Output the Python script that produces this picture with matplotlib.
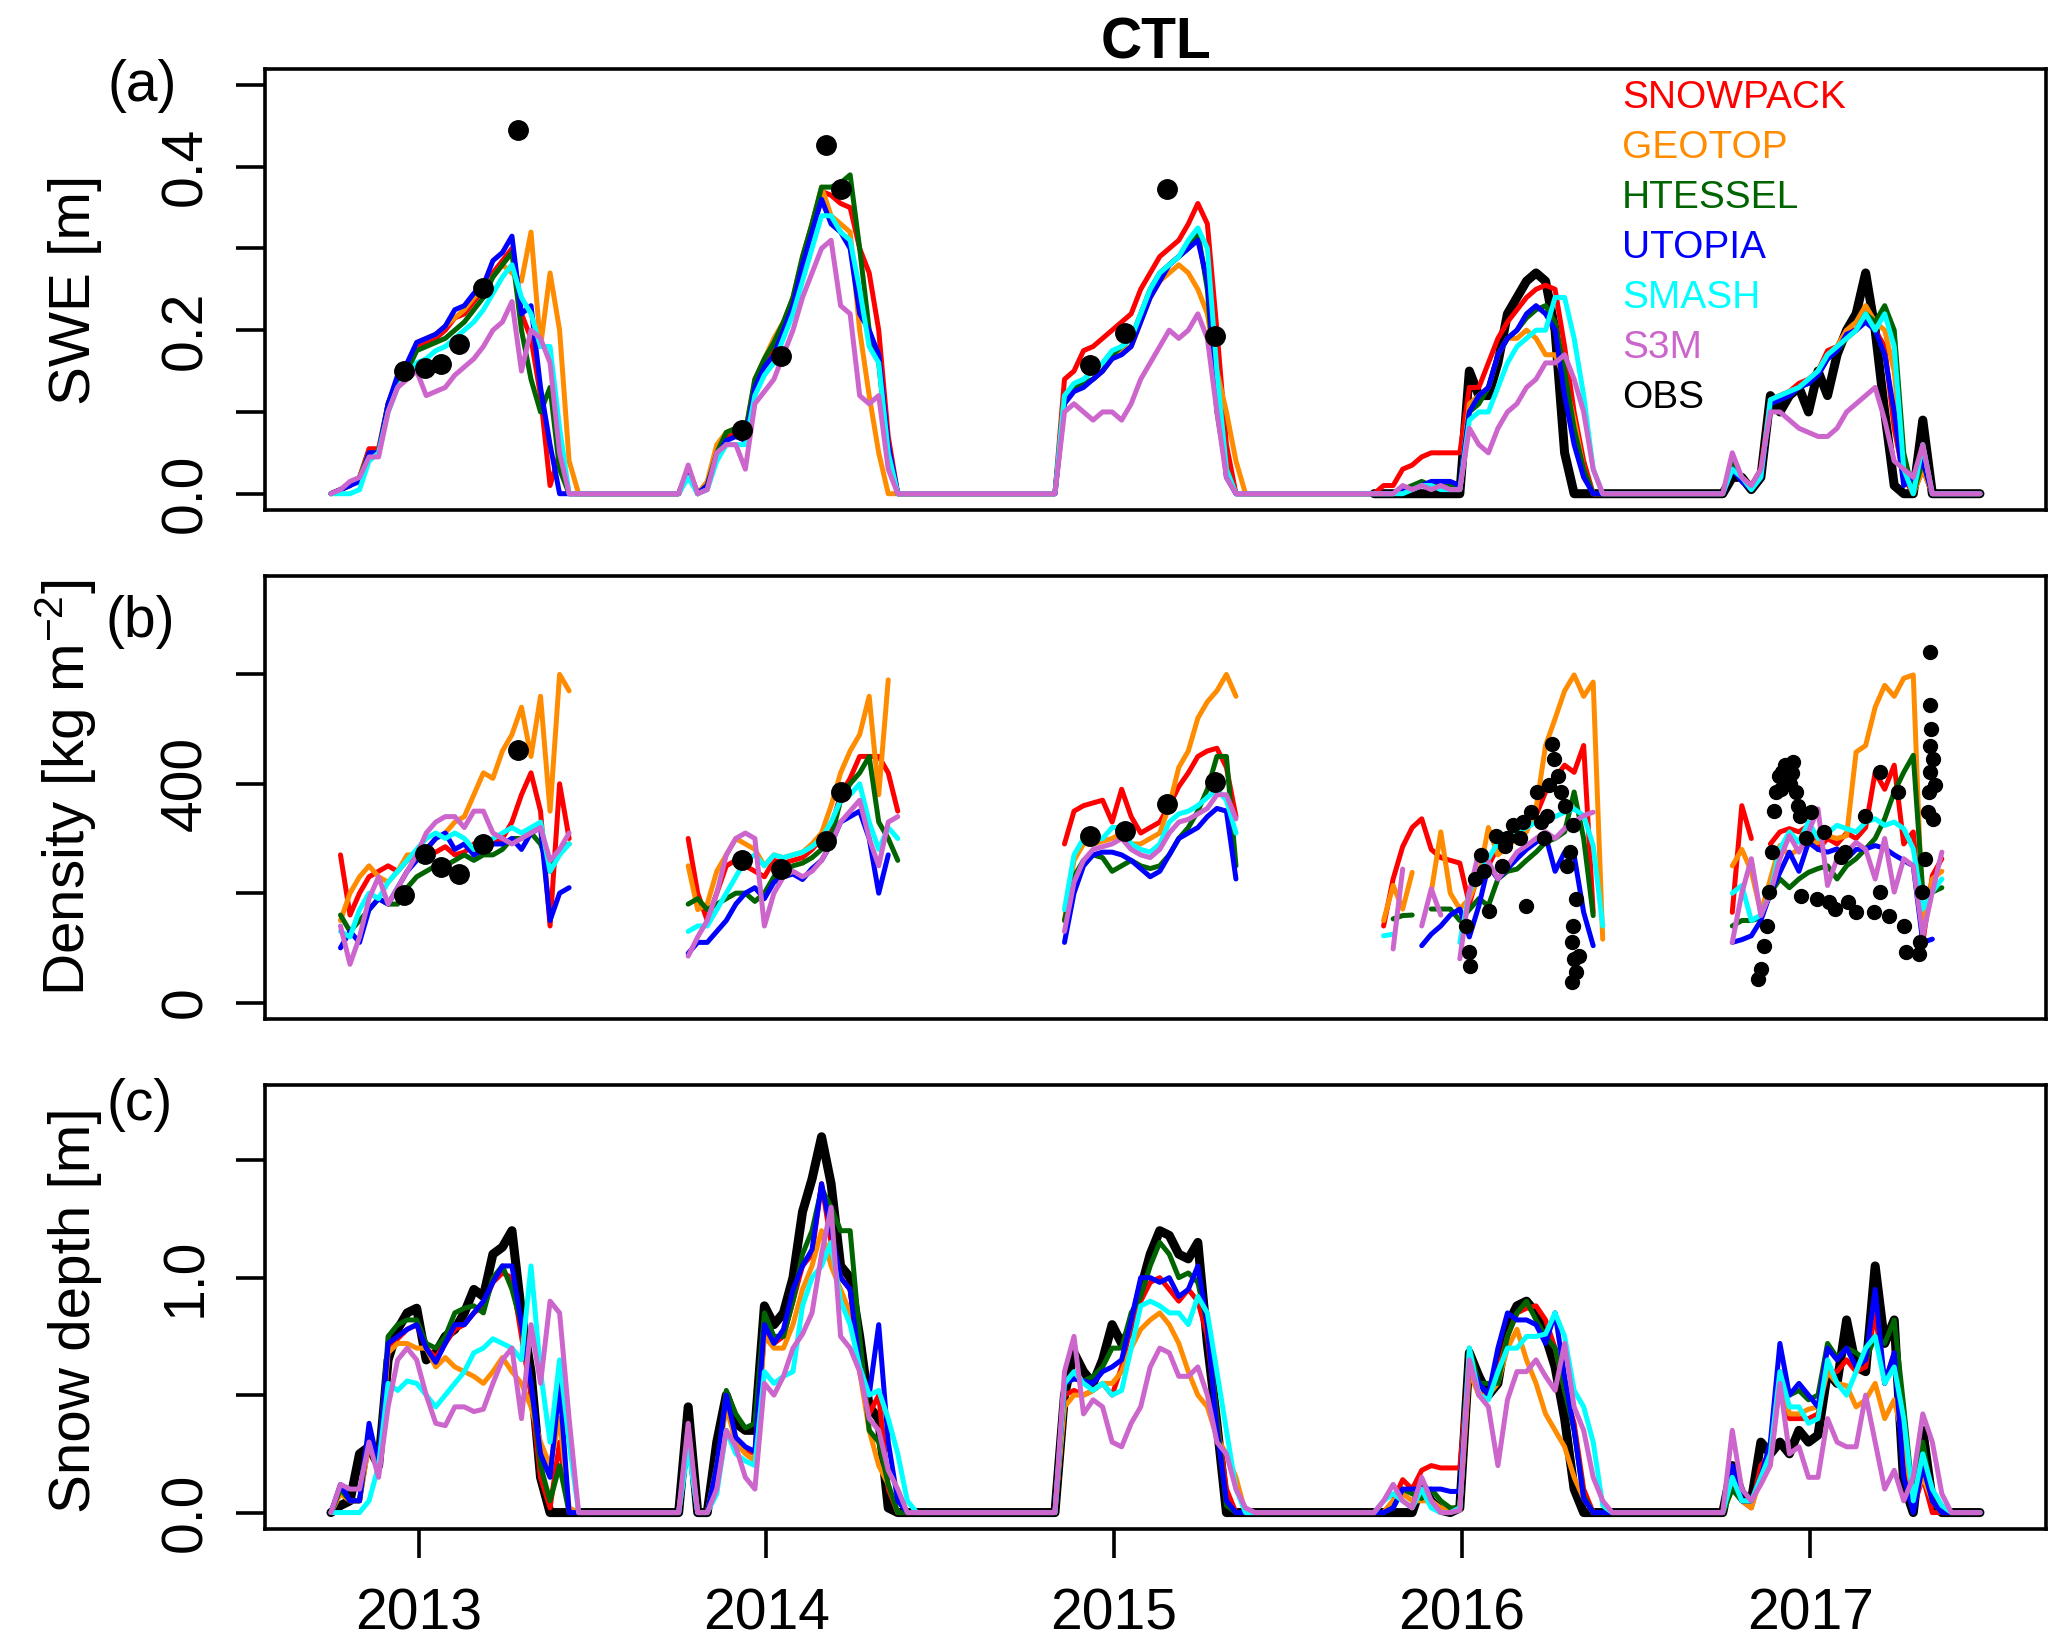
import numpy as np
import pandas as pd
import matplotlib
matplotlib.use("Agg")
import matplotlib.pyplot as plt
import matplotlib.dates as mdates

plt.rcParams["font.family"] = ["Liberation Sans", "DejaVu Sans"]
plt.rcParams["mathtext.fontset"] = "custom"
plt.rcParams["mathtext.rm"] = "Liberation Sans"
plt.rcParams["mathtext.it"] = "Liberation Sans:italic"
plt.rcParams["mathtext.default"] = "regular"

nan = np.nan

# ============ Sampling: one value every 10 days from 1 Oct ============

season_starts = ["2012-10-01", "2013-10-01", "2014-10-01", "2015-10-01", "2016-10-01"]

models = ["SNOWPACK", "GEOTOP", "HTESSEL", "UTOPIA", "SMASH", "S3M"]
colors = ["#FF0000", "#FF8C00", "#006400", "#0000FF", "#00FFFF", "#CC66CC"]

# ============ SWE [m] ============

swe_snowpack = [
    [0, 0.005, 0.01, 0.02, 0.055, 0.055, 0.11, 0.14, 0.155, 0.18, 0.185, 0.19, 0.2, 0.215, 0.22, 0.235, 0.25, 0.27, 0.285, 0.3, 0.22, 0.19, 0.12, 0.01, 0.05, 0, 0, 0],
    [0, 0.03, 0, 0.01, 0.05, 0.07, 0.075, 0.07, 0.135, 0.16, 0.18, 0.205, 0.235, 0.285, 0.33, 0.37, 0.365, 0.355, 0.35, 0.3, 0.27, 0.2, 0.07, 0, 0, 0, 0, 0],
    [0, 0, 0, 0, 0.14, 0.15, 0.175, 0.18, 0.19, 0.2, 0.21, 0.22, 0.25, 0.27, 0.29, 0.3, 0.31, 0.33, 0.355, 0.33, 0.2, 0.06, 0, 0, 0, 0, 0, 0],
    [0, 0.01, 0.01, 0.03, 0.035, 0.045, 0.05, 0.05, 0.05, 0.05, 0.13, 0.13, 0.16, 0.19, 0.21, 0.225, 0.24, 0.25, 0.255, 0.25, 0.18, 0.1, 0.04, 0, 0, 0, 0, 0],
    [0, 0.04, 0.02, 0.01, 0.03, 0.115, 0.12, 0.125, 0.135, 0.14, 0.15, 0.175, 0.18, 0.2, 0.2, 0.215, 0.2, 0.18, 0.08, 0.02, 0, 0.03, 0, 0, 0, 0, 0, 0],
]
swe_geotop = [
    [0, 0.005, 0.01, 0.02, 0.05, 0.05, 0.11, 0.14, 0.155, 0.185, 0.19, 0.195, 0.205, 0.215, 0.225, 0.24, 0.25, 0.265, 0.28, 0.27, 0.26, 0.32, 0.18, 0.27, 0.2, 0.04, 0, 0],
    [0, 0.03, 0, 0.015, 0.06, 0.075, 0.08, 0.075, 0.14, 0.165, 0.19, 0.21, 0.24, 0.29, 0.33, 0.375, 0.34, 0.33, 0.32, 0.2, 0.12, 0.05, 0, 0, 0, 0, 0, 0],
    [0, 0, 0, 0, 0.12, 0.13, 0.135, 0.14, 0.15, 0.165, 0.175, 0.18, 0.21, 0.24, 0.26, 0.27, 0.28, 0.27, 0.25, 0.22, 0.15, 0.1, 0.04, 0, 0, 0, 0, 0],
    [0, 0, 0, 0.005, 0.005, 0.01, 0.01, 0.01, 0.01, 0.005, 0.11, 0.12, 0.13, 0.17, 0.19, 0.19, 0.2, 0.19, 0.17, 0.17, 0.14, 0.09, 0.03, 0, 0, 0, 0, 0],
    [0, 0.04, 0.02, 0.005, 0.025, 0.11, 0.12, 0.125, 0.13, 0.14, 0.15, 0.17, 0.18, 0.2, 0.21, 0.23, 0.21, 0.2, 0.15, 0.03, 0, 0.03, 0, 0, 0, 0, 0, 0],
]
swe_htessel = [
    [0, 0.005, 0.01, 0.02, 0.05, 0.05, 0.11, 0.14, 0.15, 0.175, 0.18, 0.185, 0.19, 0.2, 0.21, 0.225, 0.24, 0.265, 0.28, 0.295, 0.2, 0.14, 0.1, 0.13, 0.03, 0, 0, 0],
    [0, 0.03, 0, 0.01, 0.05, 0.075, 0.08, 0.075, 0.14, 0.165, 0.185, 0.21, 0.24, 0.29, 0.33, 0.375, 0.375, 0.38, 0.39, 0.3, 0.2, 0.16, 0.05, 0, 0, 0, 0, 0],
    [0, 0, 0, 0, 0.12, 0.13, 0.135, 0.14, 0.15, 0.17, 0.18, 0.19, 0.22, 0.25, 0.27, 0.28, 0.29, 0.3, 0.32, 0.25, 0.1, 0.03, 0, 0, 0, 0, 0, 0],
    [0, 0, 0, 0.005, 0.01, 0.015, 0.01, 0.01, 0.01, 0.005, 0.1, 0.11, 0.13, 0.17, 0.19, 0.2, 0.215, 0.225, 0.23, 0.21, 0.15, 0.08, 0.03, 0, 0, 0, 0, 0],
    [0, 0.04, 0.02, 0.005, 0.025, 0.11, 0.115, 0.12, 0.13, 0.135, 0.145, 0.165, 0.175, 0.19, 0.2, 0.22, 0.21, 0.23, 0.2, 0.05, 0, 0.04, 0, 0, 0, 0, 0, 0],
]
swe_utopia = [
    [0, 0.005, 0.01, 0.015, 0.05, 0.05, 0.11, 0.145, 0.16, 0.185, 0.19, 0.195, 0.205, 0.225, 0.23, 0.245, 0.255, 0.285, 0.295, 0.315, 0.22, 0.23, 0.13, 0.06, 0, 0, 0, 0],
    [0, 0.03, 0, 0.01, 0.045, 0.065, 0.07, 0.065, 0.13, 0.155, 0.17, 0.2, 0.23, 0.28, 0.32, 0.36, 0.33, 0.32, 0.3, 0.22, 0.2, 0.17, 0.06, 0, 0, 0, 0, 0],
    [0, 0, 0, 0, 0.11, 0.125, 0.13, 0.14, 0.15, 0.165, 0.17, 0.18, 0.21, 0.24, 0.26, 0.28, 0.29, 0.3, 0.31, 0.26, 0.12, 0.02, 0, 0, 0, 0, 0, 0],
    [0, 0, 0, 0.005, 0.005, 0.01, 0.015, 0.015, 0.015, 0.01, 0.1, 0.12, 0.13, 0.17, 0.19, 0.2, 0.22, 0.23, 0.22, 0.2, 0.12, 0.06, 0.02, 0, 0, 0, 0, 0],
    [0, 0.03, 0.015, 0.005, 0.02, 0.11, 0.115, 0.12, 0.13, 0.135, 0.145, 0.165, 0.175, 0.195, 0.2, 0.21, 0.2, 0.17, 0.1, 0.01, 0.02, 0.04, 0, 0, 0, 0, 0, 0],
]
swe_smash = [
    [0, 0, 0, 0.005, 0.04, 0.05, 0.1, 0.13, 0.145, 0.16, 0.165, 0.175, 0.18, 0.19, 0.2, 0.21, 0.225, 0.245, 0.265, 0.28, 0.24, 0.22, 0.18, 0.18, 0.08, 0, 0, 0],
    [0, 0.02, 0, 0.005, 0.04, 0.06, 0.06, 0.06, 0.12, 0.145, 0.16, 0.19, 0.22, 0.26, 0.3, 0.34, 0.34, 0.32, 0.31, 0.25, 0.18, 0.16, 0.05, 0, 0, 0, 0, 0],
    [0, 0, 0, 0, 0.12, 0.135, 0.14, 0.15, 0.16, 0.175, 0.18, 0.19, 0.22, 0.25, 0.27, 0.28, 0.29, 0.31, 0.325, 0.3, 0.15, 0.03, 0, 0, 0, 0, 0, 0],
    [0, 0, 0, 0, 0.005, 0.01, 0.01, 0.005, 0.005, 0.005, 0.09, 0.1, 0.1, 0.13, 0.16, 0.18, 0.19, 0.2, 0.2, 0.24, 0.24, 0.19, 0.12, 0.03, 0, 0, 0, 0],
    [0, 0.03, 0.02, 0.005, 0.02, 0.115, 0.12, 0.125, 0.13, 0.14, 0.15, 0.17, 0.18, 0.19, 0.2, 0.22, 0.2, 0.22, 0.18, 0.03, 0, 0.06, 0, 0, 0, 0, 0, 0],
]
swe_s3m = [
    [0, 0.005, 0.015, 0.02, 0.045, 0.045, 0.1, 0.13, 0.14, 0.15, 0.12, 0.125, 0.13, 0.145, 0.155, 0.165, 0.18, 0.2, 0.21, 0.235, 0.15, 0.2, 0.19, 0.16, 0.05, 0, 0, 0],
    [0, 0.035, 0, 0.005, 0.05, 0.06, 0.06, 0.03, 0.11, 0.125, 0.14, 0.17, 0.2, 0.24, 0.27, 0.3, 0.31, 0.23, 0.22, 0.12, 0.11, 0.12, 0.03, 0, 0, 0, 0, 0],
    [0, 0, 0, 0, 0.1, 0.11, 0.1, 0.09, 0.1, 0.1, 0.09, 0.11, 0.14, 0.16, 0.18, 0.2, 0.19, 0.2, 0.22, 0.19, 0.1, 0.02, 0, 0, 0, 0, 0, 0],
    [0, 0, 0, 0.01, 0.005, 0.01, 0.005, 0.01, 0.005, 0.005, 0.08, 0.06, 0.05, 0.08, 0.1, 0.11, 0.13, 0.14, 0.16, 0.16, 0.17, 0.14, 0.1, 0.03, 0, 0, 0, 0],
    [0, 0.05, 0.02, 0.01, 0.03, 0.1, 0.1, 0.09, 0.08, 0.075, 0.07, 0.07, 0.08, 0.1, 0.11, 0.12, 0.13, 0.09, 0.04, 0.03, 0.02, 0.06, 0, 0, 0, 0, 0, 0],
]
# automatic station record, only from autumn 2015
swe_obs = [
    [0, 0, 0, 0, 0, 0, 0, 0, 0, 0, 0.15, 0.12, 0.12, 0.16, 0.22, 0.24, 0.26, 0.27, 0.26, 0.2, 0.05, 0, 0, 0, 0, 0, 0, 0],
    [0, 0.02, 0.02, 0.005, 0.02, 0.12, 0.1, 0.12, 0.13, 0.1, 0.15, 0.12, 0.17, 0.2, 0.22, 0.27, 0.2, 0.1, 0.01, 0, 0, 0.09, 0, 0, 0, 0, 0, 0],
]

# ============ Density [kg m-3] ============

dens_snowpack = [
    [nan, 270, 160, 200, 230, 240, 250, 240, 260, 270, 280, 275, 285, 270, 275, 290, 300, 290, 300, 330, 380, 420, 350, 140, 400, 300, nan, nan],
    [nan, 300, 200, 150, 200, 250, 260, 250, 240, 230, 260, 255, 260, 265, 280, 300, 320, 380, 410, 450, 450, 450, 420, 350, nan, nan, nan, nan],
    [nan, nan, nan, nan, 290, 350, 360, 365, 370, 330, 390, 340, 310, 320, 330, 360, 395, 420, 450, 460, 465, 430, 340, nan, nan, nan, nan, nan],
    [nan, 140, 226, 285, 320, 336, 280, 265, 260, 255, 180, 240, 250, 285, 300, 305, 320, 342, 385, 410, 434, 421, 470, 165, nan, nan, nan, nan],
    [nan, 165, 360, 300, nan, 290, 312, 318, 312, 324, 280, 300, 290, 310, 300, 320, 421, 390, 434, 290, 312, 110, 232, 263, nan, nan, nan, nan],
]
dens_geotop = [
    [nan, 150, 200, 230, 250, 230, 220, 240, 270, 270, 280, 300, 310, 330, 340, 380, 420, 410, 460, 490, 540, 450, 560, 350, 600, 570, nan, nan],
    [nan, 250, 170, 180, 240, 270, 300, 290, 280, 250, 270, 265, 270, 275, 290, 310, 360, 420, 460, 490, 560, 380, 590, nan, nan, nan, nan, nan],
    [nan, nan, nan, nan, 150, 260, 290, 290, 295, 300, 310, 290, 290, 300, 310, 360, 430, 460, 520, 550, 570, 600, 560, nan, nan, nan, nan, nan],
    [nan, 150, 214, 171, 238, nan, 202, 312, 200, 171, 190, 230, 320, 270, 285, 300, 312, 354, 470, 519, 570, 599, 560, 586, 116, nan, nan, nan],
    [nan, 250, 280, 240, 165, 226, 287, 269, 281, 290, 293, 305, 300, 305, 458, 470, 540, 580, 560, 593, 599, 140, 226, 240, nan, nan, nan, nan],
]
dens_htessel = [
    [nan, 160, 130, 150, 170, 190, 180, 180, 210, 230, 240, 250, 250, 260, 270, 260, 270, 270, 280, 300, 300, 310, 290, 240, 280, 290, nan, nan],
    [nan, 180, 190, 170, 180, 190, 200, 200, 185, 200, 230, 240, 250, 255, 265, 280, 300, 370, 400, 420, 450, 330, 300, 260, nan, nan, nan, nan],
    [nan, nan, nan, nan, 150, 230, 260, 270, 265, 240, 250, 260, 250, 245, 250, 270, 300, 320, 350, 390, 450, 450, 250, nan, nan, nan, nan, nan],
    [nan, nan, 153, 159, 160, nan, 171, 171, 171, 150, 170, 190, 177, 226, 240, 244, 260, 275, 293, 300, 312, 385, 300, 159, nan, nan, nan, nan],
    [nan, 140, 150, 150, 155, 200, 226, 210, 226, 238, 245, 250, 226, 250, 263, 281, 300, 336, 385, 421, 452, 202, 202, 210, nan, nan, nan, nan],
]
dens_utopia = [
    [nan, 100, 130, 110, 170, 190, 180, 210, 240, 260, 280, 300, 310, 280, 290, 270, 280, 290, 290, 300, 280, 310, 320, 150, 200, 210, nan, nan],
    [nan, 90, 110, 110, 130, 150, 180, 200, 210, 190, 220, 230, 235, 225, 245, 260, 290, 330, 340, 350, 300, 200, 270, nan, nan, nan, nan, nan],
    [nan, nan, nan, nan, 110, 200, 250, 270, 275, 275, 270, 260, 245, 230, 240, 270, 300, 310, 320, 340, 355, 350, 226, nan, nan, nan, nan, nan],
    [nan, nan, nan, 110, nan, 104, 125, 140, 160, 171, 120, 177, 250, 226, 245, 263, 280, 293, 305, 240, 275, 269, 165, 104, nan, nan, nan, nan],
    [nan, 110, 115, 122, 150, 200, 238, 275, 240, 293, 280, 275, 281, 263, 280, 281, 287, 282, 270, 260, 250, 110, 116, nan, nan, nan, nan, nan],
]
dens_smash = [
    [nan, 130, 120, 170, 200, 190, 220, 240, 260, 280, 300, 310, 300, 310, 300, 280, 290, 300, 310, 320, 310, 320, 330, 240, 270, 290, nan, nan],
    [nan, 130, 140, 140, 170, 200, 230, 260, 270, 250, 270, 265, 270, 275, 285, 300, 330, 370, 380, 400, 330, 280, 320, 300, nan, nan, nan, nan],
    [nan, nan, nan, nan, 170, 270, 300, 300, 300, 320, 320, 290, 280, 275, 290, 330, 345, 350, 360, 375, 390, 370, 310, nan, nan, nan, nan, nan],
    [nan, 122, 125, nan, nan, 140, nan, nan, nan, 110, 202, 240, 263, 293, 305, 312, 320, 330, 336, 340, 348, 354, 342, 287, 140, nan, nan, nan],
    [nan, 200, 214, 150, 160, 202, 281, 312, 293, 330, 300, 310, 324, 318, 312, 330, 336, 324, 330, 318, 281, 171, 202, 226, nan, nan, nan, nan],
]
dens_s3m = [
    [nan, 140, 70, 120, 190, 230, 180, 210, 240, 270, 310, 330, 340, 340, 320, 350, 350, 310, 300, 290, 300, 310, 320, 260, 280, 310, nan, nan],
    [nan, 85, 120, 150, 200, 270, 300, 310, 300, 140, 200, 230, 240, 230, 240, 260, 290, 330, 350, 370, 300, 250, 330, 340, nan, nan, nan, nan],
    [nan, nan, nan, nan, 130, 220, 260, 280, 285, 290, 300, 280, 270, 265, 280, 310, 330, 335, 345, 355, 380, 380, 336, nan, nan, nan, nan, nan],
    [nan, nan, 98, 244, nan, 140, 208, 160, nan, 80, 202, 275, 257, 226, 250, 275, 287, 300, 312, 300, 318, 330, 342, 348, nan, nan, nan, nan],
    [nan, 110, 200, 263, 159, 200, 263, 305, 275, 312, 354, 214, 263, 275, 293, 280, 226, 300, 202, 263, 250, 122, 202, 275, nan, nan, nan, nan],
]

# ============ Snow depth [m] ============

depth_snowpack = [
    [0, 0.1, 0.05, 0.05, 0.3, 0.2, 0.7, 0.74, 0.78, 0.8, 0.7, 0.66, 0.72, 0.78, 0.8, 0.85, 0.88, 0.98, 1.02, 1.0, 0.75, 0.5, 0.15, 0.02, 0.3, 0, 0, 0],
    [0, 0.3, 0, 0, 0.18, 0.48, 0.3, 0.27, 0.25, 0.78, 0.72, 0.75, 0.9, 1.05, 1.1, 1.4, 1.15, 1.0, 0.95, 0.6, 0.42, 0.5, 0.1, 0, 0, 0, 0, 0],
    [0, 0, 0, 0, 0.5, 0.52, 0.5, 0.52, 0.55, 0.5, 0.62, 0.8, 0.9, 0.98, 1.0, 0.95, 0.9, 0.95, 0.9, 0.75, 0.4, 0.1, 0, 0, 0, 0, 0, 0],
    [0, 0, 0.05, 0.14, 0.1, 0.18, 0.2, 0.19, 0.19, 0.19, 0.65, 0.5, 0.5, 0.6, 0.75, 0.85, 0.87, 0.88, 0.82, 0.7, 0.52, 0.38, 0.1, 0, 0, 0, 0, 0],
    [0, 0.15, 0.05, 0.02, 0.2, 0.25, 0.55, 0.4, 0.4, 0.4, 0.42, 0.6, 0.6, 0.65, 0.6, 0.62, 0.85, 0.55, 0.68, 0.25, 0.02, 0.15, 0, 0, 0, 0, 0, 0],
]
depth_geotop = [
    [0, 0.08, 0.05, 0.05, 0.3, 0.18, 0.68, 0.72, 0.72, 0.7, 0.7, 0.62, 0.66, 0.62, 0.6, 0.58, 0.55, 0.6, 0.66, 0.6, 0.55, 0.45, 0.3, 0.2, 0.4, 0.02, 0, 0],
    [0, 0.3, 0, 0, 0.2, 0.45, 0.3, 0.25, 0.22, 0.75, 0.7, 0.7, 0.8, 0.95, 1.05, 1.2, 1.05, 0.95, 0.85, 0.6, 0.35, 0.2, 0.12, 0, 0, 0, 0, 0],
    [0, 0, 0, 0, 0.45, 0.5, 0.5, 0.52, 0.55, 0.55, 0.6, 0.7, 0.78, 0.82, 0.85, 0.8, 0.72, 0.6, 0.5, 0.45, 0.32, 0.25, 0.15, 0, 0, 0, 0, 0],
    [0, 0, 0.05, 0.08, 0.05, 0.05, 0.05, 0.02, 0.01, 0.02, 0.6, 0.5, 0.5, 0.55, 0.7, 0.78, 0.65, 0.55, 0.42, 0.35, 0.28, 0.15, 0.06, 0, 0, 0, 0, 0],
    [0, 0.1, 0.05, 0.02, 0.15, 0.25, 0.6, 0.42, 0.42, 0.44, 0.45, 0.6, 0.55, 0.54, 0.45, 0.48, 0.55, 0.4, 0.48, 0.3, 0.05, 0.15, 0.05, 0, 0, 0, 0, 0],
]
depth_htessel = [
    [0, 0.1, 0.05, 0.05, 0.35, 0.2, 0.75, 0.8, 0.82, 0.82, 0.72, 0.7, 0.75, 0.85, 0.87, 0.88, 0.85, 1.0, 1.05, 0.95, 0.8, 0.55, 0.2, 0.05, 0.2, 0, 0, 0],
    [0, 0.35, 0, 0, 0.15, 0.52, 0.42, 0.36, 0.38, 0.85, 0.75, 0.75, 0.9, 1.1, 1.2, 1.38, 1.3, 1.2, 1.2, 0.75, 0.35, 0.3, 0.12, 0, 0, 0, 0, 0],
    [0, 0, 0, 0, 0.55, 0.57, 0.56, 0.58, 0.62, 0.7, 0.7, 0.85, 0.92, 1.05, 1.15, 1.1, 1.0, 1.02, 0.98, 0.8, 0.4, 0.03, 0, 0, 0, 0, 0, 0],
    [0, 0, 0.02, 0.1, 0.08, 0.06, 0.1, 0.05, 0.02, 0.02, 0.7, 0.55, 0.55, 0.55, 0.75, 0.85, 0.9, 0.82, 0.75, 0.7, 0.52, 0.35, 0.07, 0, 0, 0, 0, 0],
    [0, 0.1, 0.05, 0.05, 0.15, 0.25, 0.6, 0.5, 0.52, 0.48, 0.5, 0.72, 0.66, 0.7, 0.68, 0.65, 0.75, 0.72, 0.82, 0.45, 0.05, 0.3, 0.05, 0, 0, 0, 0, 0],
]
depth_utopia = [
    [0, 0.12, 0.05, 0.05, 0.38, 0.2, 0.72, 0.75, 0.78, 0.8, 0.7, 0.64, 0.72, 0.8, 0.8, 0.85, 0.9, 0.98, 1.05, 1.05, 0.8, 0.55, 0.25, 0.15, 0.55, 0, 0, 0],
    [0, 0.3, 0, 0, 0.2, 0.5, 0.32, 0.28, 0.26, 0.8, 0.72, 0.78, 0.95, 1.05, 1.12, 1.4, 1.2, 1.0, 0.95, 0.62, 0.5, 0.8, 0.3, 0.05, 0, 0, 0, 0],
    [0, 0, 0, 0, 0.55, 0.57, 0.56, 0.55, 0.6, 0.62, 0.65, 0.82, 1.0, 1.0, 0.98, 1.0, 0.92, 0.95, 1.05, 0.8, 0.35, 0.05, 0, 0, 0, 0, 0, 0],
    [0, 0, 0.02, 0.1, 0.1, 0.1, 0.1, 0.1, 0.09, 0.09, 0.65, 0.55, 0.5, 0.7, 0.85, 0.82, 0.82, 0.8, 0.72, 0.85, 0.58, 0.35, 0.06, 0, 0, 0, 0, 0],
    [0, 0.2, 0.05, 0.05, 0.15, 0.3, 0.72, 0.5, 0.55, 0.5, 0.45, 0.7, 0.65, 0.7, 0.62, 0.65, 0.95, 0.55, 0.68, 0.15, 0, 0.2, 0.05, 0, 0, 0, 0, 0],
]
depth_smash = [
    [0, 0, 0, 0, 0.05, 0.2, 0.55, 0.52, 0.56, 0.55, 0.5, 0.45, 0.5, 0.55, 0.6, 0.68, 0.7, 0.74, 0.72, 0.7, 0.65, 1.05, 0.6, 0.3, 0.65, 0.3, 0, 0],
    [0, 0.28, 0, 0, 0.08, 0.35, 0.25, 0.22, 0.2, 0.6, 0.55, 0.58, 0.6, 0.88, 1.0, 1.05, 1.15, 0.9, 0.8, 0.62, 0.5, 0.52, 0.4, 0.25, 0.05, 0, 0, 0],
    [0, 0, 0, 0, 0.55, 0.6, 0.55, 0.52, 0.55, 0.5, 0.52, 0.7, 0.88, 0.9, 0.88, 0.85, 0.85, 0.8, 0.92, 0.85, 0.6, 0.35, 0.1, 0, 0, 0, 0, 0],
    [0, 0.05, 0.08, 0.05, 0.02, 0.1, 0.02, 0, 0, 0.02, 0.7, 0.5, 0.48, 0.6, 0.7, 0.7, 0.75, 0.75, 0.76, 0.85, 0.75, 0.52, 0.45, 0.3, 0.03, 0, 0, 0],
    [0, 0.15, 0.05, 0.05, 0.15, 0.25, 0.6, 0.45, 0.45, 0.38, 0.4, 0.65, 0.55, 0.5, 0.6, 0.7, 0.75, 0.55, 0.62, 0.4, 0.05, 0.25, 0.1, 0.03, 0, 0, 0, 0],
]
depth_s3m = [
    [0, 0.12, 0.1, 0.1, 0.3, 0.15, 0.45, 0.65, 0.7, 0.65, 0.5, 0.38, 0.37, 0.45, 0.45, 0.43, 0.44, 0.55, 0.65, 0.7, 0.4, 0.8, 0.55, 0.9, 0.85, 0.4, 0, 0],
    [0, 0.38, 0, 0, 0.1, 0.35, 0.28, 0.15, 0.1, 0.55, 0.5, 0.58, 0.7, 0.76, 0.85, 1.1, 1.3, 0.75, 0.7, 0.6, 0.4, 0.35, 0.18, 0.1, 0, 0, 0, 0],
    [0, 0, 0, 0, 0.6, 0.75, 0.42, 0.48, 0.45, 0.3, 0.28, 0.38, 0.45, 0.62, 0.7, 0.68, 0.58, 0.58, 0.62, 0.5, 0.3, 0.25, 0.1, 0.02, 0, 0, 0, 0],
    [0, 0.05, 0.12, 0.05, 0.02, 0.15, 0.05, 0, 0, 0.01, 0.65, 0.5, 0.45, 0.2, 0.48, 0.6, 0.6, 0.65, 0.58, 0.52, 0.72, 0.45, 0.35, 0.15, 0.05, 0, 0, 0],
    [0, 0.35, 0.1, 0.05, 0.12, 0.2, 0.55, 0.25, 0.28, 0.15, 0.15, 0.4, 0.3, 0.28, 0.28, 0.5, 0.3, 0.1, 0.18, 0.05, 0.15, 0.42, 0.3, 0.08, 0, 0, 0, 0],
]
depth_obs = [
    [0, 0.03, 0.05, 0.25, 0.28, 0.2, 0.65, 0.78, 0.85, 0.87, 0.65, 0.68, 0.75, 0.78, 0.85, 0.95, 0.92, 1.1, 1.13, 1.2, 0.85, 0.6, 0.15, 0, 0, 0, 0, 0],
    [0, 0.45, 0, 0, 0.3, 0.5, 0.38, 0.35, 0.35, 0.88, 0.8, 0.85, 1.0, 1.28, 1.42, 1.6, 1.4, 1.05, 1.0, 0.75, 0.45, 0.4, 0.02, 0, 0, 0, 0, 0],
    [0, 0, 0, 0, 0.5, 0.68, 0.6, 0.55, 0.65, 0.8, 0.72, 0.78, 0.95, 1.1, 1.2, 1.18, 1.1, 1.08, 1.15, 0.72, 0.38, 0, 0, 0, 0, 0, 0, 0],
    [0, 0, 0, 0, 0, 0.12, 0.05, 0.01, 0, 0.02, 0.68, 0.58, 0.5, 0.55, 0.8, 0.88, 0.9, 0.85, 0.75, 0.62, 0.4, 0.1, 0, 0, 0, 0, 0, 0],
    [0, 0.2, 0.08, 0.05, 0.3, 0.25, 0.3, 0.25, 0.35, 0.3, 0.33, 0.6, 0.55, 0.82, 0.62, 0.6, 1.05, 0.72, 0.82, 0.12, 0, 0.35, 0.05, 0, 0, 0, 0, 0],
]

# ============ Manual snow pit observations (2013-2015) ============

pit_dates = ["2012-12-17", "2013-01-08", "2013-01-25", "2013-02-12", "2013-03-10", "2013-04-15",
             "2013-12-07", "2014-01-16", "2014-03-05", "2014-03-20",
             "2014-12-07", "2015-01-13", "2015-02-26", "2015-04-17"]
pit_swe = [0.15, 0.154, 0.159, 0.183, 0.252, 0.445, 0.078, 0.169, 0.427, 0.373, 0.158, 0.197, 0.373, 0.193]
pit_dens = [197, 271, 248, 235, 290, 461, 261, 244, 295, 385, 304, 313, 363, 404]

# ============ Automatic density observations (2016-2017), days since 2016-01-01 ============

auto_dens_days = [4, 8, 9, 14, 20, 23, 29, 36, 42, 45, 48, 54, 61, 64, 67, 73, 79, 83, 86, 89,
                  92, 95, 97, 101, 104, 108, 111, 114, 117, 120, 117, 116, 118, 116, 120, 123,
                  311, 314, 317, 320, 323, 326, 328, 330, 333, 335, 336, 339, 341, 342, 345, 347,
                  348, 351, 353, 355, 356, 361, 367, 373, 380, 386, 392, 398, 402, 405, 414, 423,
                  433, 439, 439, 448, 458, 464, 466, 480, 481, 483, 486, 489, 491, 492, 492, 493,
                  492, 492, 495, 497, 495]
auto_dens = [140, 92, 67, 226, 269, 240, 168, 305, 250, 287, 300, 324, 300, 330, 177, 348, 385, 330, 300, 342,
             397, 473, 446, 415, 385, 360, 250, 275, 324, 189, 140, 110, 80, 37, 55, 85,
             43, 61, 104, 140, 202, 275, 350, 385, 415, 390, 421, 434, 410, 428, 400, 420,
             440, 385, 360, 342, 195, 300, 348, 189, 312, 183, 171, 266, 275, 183, 165, 342,
             165, 421, 202, 159, 385, 140, 92, 89, 110, 202, 263, 348, 385, 421, 470, 501,
             544, 641, 446, 397, 336]


def as_series(seasons, starts):
    t, v = [], []
    for start, vals in zip(starts, seasons):
        t.extend(pd.date_range(start, periods=len(vals), freq="10D"))
        v.extend(vals)
    return pd.DatetimeIndex(t), np.array(v, dtype=float)


panels = [
    ([swe_snowpack, swe_geotop, swe_htessel, swe_utopia, swe_smash, swe_s3m], swe_obs, season_starts[3:]),
    ([dens_snowpack, dens_geotop, dens_htessel, dens_utopia, dens_smash, dens_s3m], None, None),
    ([depth_snowpack, depth_geotop, depth_htessel, depth_utopia, depth_smash, depth_s3m], depth_obs, season_starts),
]

fig = plt.figure(figsize=(20.67, 16.48), dpi=100)
boxes = [[0.1282, 0.6905, 0.8616, 0.2679],
         [0.1282, 0.3817, 0.8616, 0.2688],
         [0.1282, 0.0722, 0.8616, 0.2694]]
axes = [fig.add_axes(b) for b in boxes]

t_all, _ = as_series(swe_snowpack, season_starts)
t0, t1 = mdates.date2num(t_all[0]), mdates.date2num(t_all[-1])
xpad = 0.04 * (t1 - t0)

for ax, (series, obs, obs_starts) in zip(axes, panels):
    if obs is not None:
        t, v = as_series(obs, obs_starts)
        ax.plot(t, v, color="black", lw=6.5, zorder=1.5, solid_capstyle="round", solid_joinstyle="round")
    for name, col, s in zip(models, colors, series):
        t, v = as_series(s, season_starts)
        ax.plot(t, v, color=col, lw=3.6, zorder=2, solid_capstyle="round", solid_joinstyle="round")
    ax.set_xlim(t0 - xpad, t1 + xpad)
    for sp in ax.spines.values():
        sp.set_linewidth(2.6)
    ax.tick_params(axis="both", length=21, width=2.6, labelsize=41)

ax_a, ax_b, ax_c = axes

# manual observations
pit_t = pd.to_datetime(pit_dates)
ax_a.plot(pit_t, pit_swe, "o", color="black", ms=14, zorder=4)
ax_b.plot(pit_t, pit_dens, "o", color="black", ms=14, zorder=4)
auto_t = pd.Timestamp("2016-01-01") + pd.to_timedelta(auto_dens_days, unit="D")
ax_b.plot(auto_t, auto_dens, "o", color="black", ms=10, zorder=4)

# ============ Axes and labels ============

ax_a.set_ylim(-0.02, 0.52)
ax_a.set_yticks([0, 0.1, 0.2, 0.3, 0.4, 0.5])
ax_a.set_yticklabels(["0.0", "", "0.2", "", "0.4", ""])
ax_b.set_ylim(-30, 780)
ax_b.set_yticks([0, 200, 400, 600])
ax_b.set_yticklabels(["0", "", "400", ""])
ax_c.set_ylim(-0.07, 1.82)
ax_c.set_yticks([0, 0.5, 1.0, 1.5])
ax_c.set_yticklabels(["0.0", "", "1.0", ""])

for ax in (ax_a, ax_b):
    ax.tick_params(axis="x", bottom=False, labelbottom=False)
ax_c.set_xticks(pd.to_datetime(["2013-01-01", "2014-01-01", "2015-01-01", "2016-01-01", "2017-01-01"]))
ax_c.xaxis.set_major_formatter(mdates.DateFormatter("%Y"))
ax_c.tick_params(axis="x", pad=21)

for ax in axes:
    ax.tick_params(axis="y", pad=25)
    plt.setp(ax.get_yticklabels(), rotation=90, rotation_mode="anchor", ha="center", va="baseline")

# model legend as coloured names
for i, (name, col) in enumerate(zip(models + ["OBS"], colors + ["black"])):
    ax_a.text(0.762, 0.9105 - 0.1133 * i, name, color=col, fontsize=28,
              transform=ax_a.transAxes, ha="left", va="baseline")

fig.text(0.5595, 0.9642, "CTL", fontsize=41, fontweight="bold", ha="center", va="baseline")

fig.text(0.0687, 0.9478, "(a)", fontsize=41, ha="center", va="center")
fig.text(0.0677, 0.6226, "(b)", fontsize=41, ha="center", va="center")
fig.text(0.0677, 0.3295, "(c)", fontsize=41, ha="center", va="center")

ylabels = [("SWE [m]", 0.0435, 0.824),
           ("Density [kg m$^{\\mathrm{-}2}$]", 0.0411, 0.5222),
           ("Snow depth [m]", 0.0435, 0.205)]
for txt, x, y in ylabels:
    fig.text(x, y, txt, fontsize=42, rotation=90, rotation_mode="anchor",
             ha="center", va="baseline")

fig.savefig("out.png", dpi=100)
